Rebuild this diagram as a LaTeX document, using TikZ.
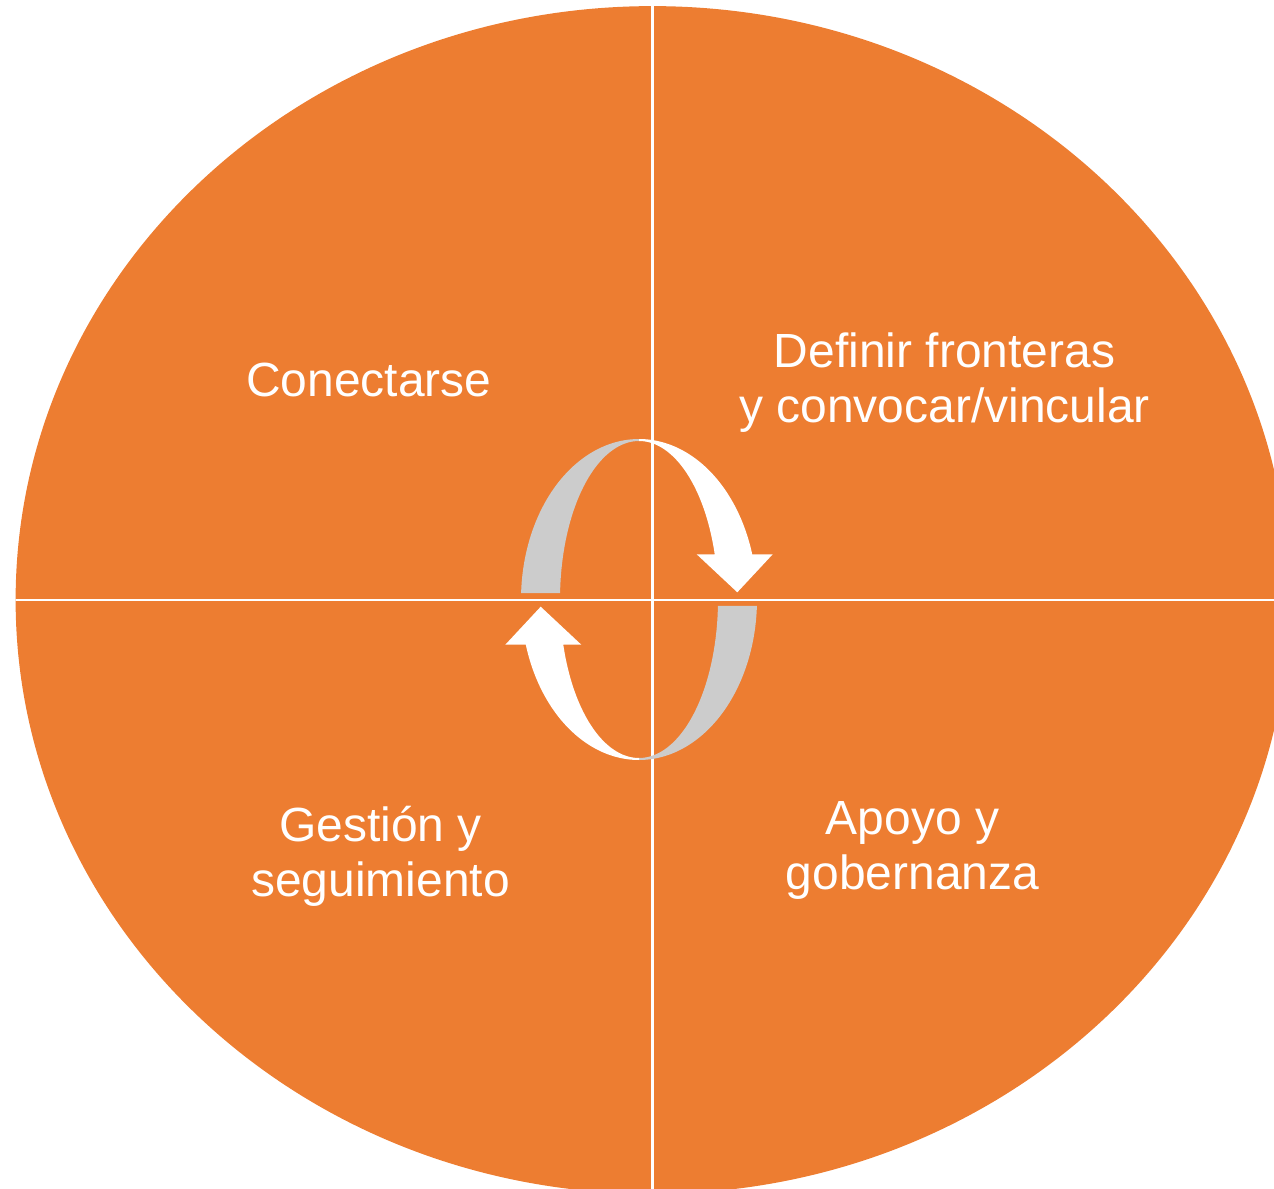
\documentclass[tikz,border=0pt]{standalone}
\usepackage{fontspec}
\setmainfont{Liberation Sans}
\definecolor{orangefill}{HTML}{ED7D31}
\definecolor{grayband}{HTML}{CCCCCC}
\begin{document}
\begin{tikzpicture}[x=0.02cm,y=-0.02cm,
  quadtext/.style={text=white, font=\fontsize{27.3}{31.2}\selectfont, align=center, inner sep=0pt},
  divider/.style={draw=white, line width=1.5pt},
  frontband/.style={fill=white},
  backband/.style={fill=grayband}]
\useasboundingbox (0,0) rectangle (1274,1189);
\begin{scope}
  \clip (0,0) rectangle (1274,1189);
  \fill[orangefill] (652.5,600) ellipse [x radius=12.74cm, y radius=11.88cm];
  \clip (652.5,600) ellipse [x radius=12.74cm, y radius=11.88cm];
  \draw[divider] (652.7,0) -- (652.7,1189);
  \draw[divider] (0,600) -- (1274,600);
\end{scope}
% back (gray) quarters of the ring
\fill[backband] plot[domain=182.3:270, samples=50] ({639+118*cos(\x)},{599.5+160.5*sin(\x)})
  -- plot[domain=270:182.35, samples=50] ({639+79*cos(\x)},{599.5+158.5*sin(\x)}) -- cycle;
\fill[backband] plot[domain=2.3:90, samples=50] ({639+118*cos(\x)},{599.5+160.5*sin(\x)})
  -- plot[domain=90:2.35, samples=50] ({639+79*cos(\x)},{599.5+158.5*sin(\x)}) -- cycle;
% front (white) quarters with arrow heads
\fill[frontband] plot[domain=270:343.43, samples=50] ({639+79*cos(\x)},{599.5+158.5*sin(\x)})
  -- (696.7,554.3) -- (737.3,592.3) -- (772.7,554.3)
  -- plot[domain=343.64:270, samples=50] ({639+118*cos(\x)},{599.5+160.5*sin(\x)}) -- cycle;
\fill[frontband] plot[domain=90:163.43, samples=50] ({639+79*cos(\x)},{599.5+158.5*sin(\x)})
  -- (581.3,644.7) -- (540.7,606.7) -- (505.3,644.7)
  -- plot[domain=163.64:90, samples=50] ({639+118*cos(\x)},{599.5+160.5*sin(\x)}) -- cycle;
% texts (anchor=base = baseline of the last line)
\node[quadtext, anchor=base] (conectarse) at (369,397) {Conectarse};
\node[quadtext, anchor=base] (definir) at (944.5,422) {Definir fronteras\\y convocar/vincular};
\node[quadtext, anchor=base] (gestion) at (380.5,896) {Gestión y\\seguimiento};
\node[quadtext, anchor=base] (apoyo) at (912.5,889) {Apoyo y\\gobernanza};
\end{tikzpicture}
\end{document}
